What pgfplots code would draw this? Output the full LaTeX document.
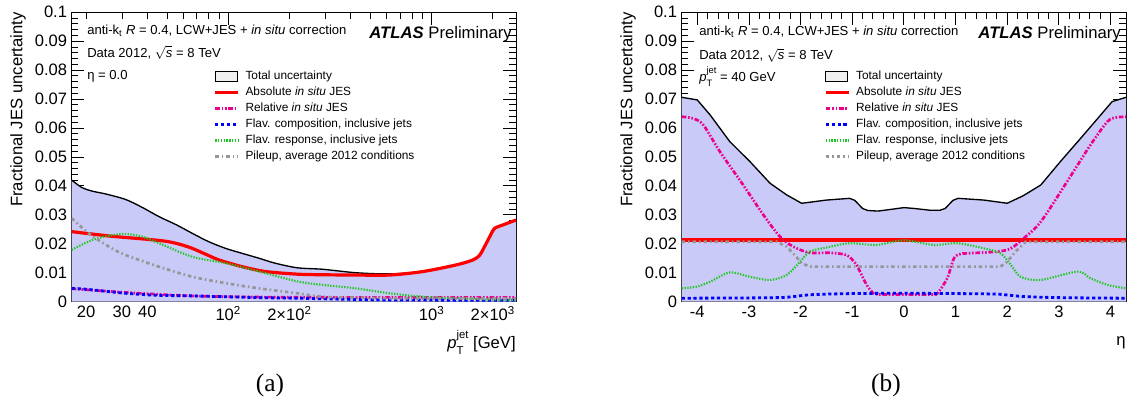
\documentclass[border=0pt]{standalone}
\usepackage{fontspec}
\setmainfont{Liberation Sans}
\newfontfamily\capfont{Liberation Serif}
\usepackage{pgfplots}
\pgfplotsset{compat=1.18}

\definecolor{totfill}{RGB}{202,202,248}
\definecolor{flavgreen}{RGB}{30,200,30}
\definecolor{pugray}{RGB}{150,150,150}

% p_T^jet with the ROOT-like stacked indices
\newcommand{\ptjet}[1]{\textit{p}\rlap{\raisebox{-0.4em}{\fontsize{#1}{#1}\selectfont T}}\raisebox{0.55em}{\fontsize{#1}{#1}\selectfont jet}}

\tikzset{
  totline/.style={black, line width=1pt},
  absstyle/.style={red, line width=2.4pt},
  relstyle/.style={magenta, line width=2pt, dash pattern=on 3.5pt off 1.3pt on 1.2pt off 1.3pt on 1.2pt off 1.3pt},
  compstyle/.style={blue, line width=2.1pt, dash pattern=on 2.4pt off 2pt},
  respstyle/.style={flavgreen, line width=1.6pt, dash pattern=on 1pt off 1.1pt},
  pustyle/.style={pugray, line width=2pt, dash pattern=on 2.6pt off 2.2pt on 1.2pt off 2.2pt},
}

\pgfplotsset{
  jesaxis/.style={
    scale only axis, width=333.2pt, height=217.1pt, anchor=north west,
    ymin=0, ymax=0.1,
    ytick={0,0.01,0.02,0.03,0.04,0.05,0.06,0.07,0.08,0.09,0.1},
    yticklabels={0,0.01,0.02,0.03,0.04,0.05,0.06,0.07,0.08,0.09,0.1},
    minor y tick num=4,
    scaled y ticks=false,
    tick label style={font=\fontsize{12.4}{14}\selectfont},
    major tick length=9.5pt, minor tick length=5pt,
    tick style={black, line width=0.6pt},
    axis line style={line width=0.6pt},
    legend cell align=left,
    legend style={draw=none, fill=none, inner sep=0pt, anchor=north west,
      font=\fontsize{8.9}{10}\selectfont, row sep=3.6pt, column sep=4.5pt,
      nodes={inner sep=0pt, text height=6.5pt, text depth=1.9pt}},
  },
  totbox/.style={legend image code/.code={\draw[black, line width=0.6pt, fill=gray!12] (0cm,-0.13cm) rectangle (0.58cm,0.13cm);}},
}

\begin{document}
\begin{tikzpicture}
\begin{scope}[x=0.75pt,y=-0.75pt]
\useasboundingbox (0,0) rectangle (1134,405);
\end{scope}

% ---------------- (a) versus pT ----------------
\begin{axis}[jesaxis, at={(53.8pt,-9.15pt)},
    xmode=log, xmin=17, xmax=2600,
    xtick={100,1000}, xticklabels={10\textsuperscript{2},10\textsuperscript{3}},
    extra x ticks={20,30,40,200,2000},
    extra x tick labels={20,30,40,2×10\textsuperscript{2},2×10\textsuperscript{3}},
    extra x tick style={major tick length=5pt},
    minor xtick={20,30,40,50,60,70,80,90,200,300,400,500,600,700,800,900,2000},
    legend style={at={(0.3187,0.798)}}]
\addplot[fill=totfill, draw=none, smooth, forget plot] coordinates {
 (17,0.0420) (19,0.0395) (21.4,0.0382) (25,0.0372) (31.3,0.0353) (37.7,0.0326)
 (45.6,0.0294) (55.8,0.0265) (66.6,0.0236) (80.3,0.0207) (97.2,0.0184) (117,0.0167)
 (141.8,0.0150) (170,0.0133) (219,0.0117) (291,0.0112) (425,0.0100) (620,0.0096)
 (904,0.0104) (1321,0.0127) (1594,0.0144) (1720,0.0160) (1820,0.0190) (1950,0.0230)
 (2038,0.0253) (2240,0.0265) (2600,0.0282)} \closedcycle;
\addplot[totline, smooth, forget plot] coordinates {
 (17,0.0420) (19,0.0395) (21.4,0.0382) (25,0.0372) (31.3,0.0353) (37.7,0.0326)
 (45.6,0.0294) (55.8,0.0265) (66.6,0.0236) (80.3,0.0207) (97.2,0.0184) (117,0.0167)
 (141.8,0.0150) (170,0.0133) (219,0.0117) (291,0.0112) (425,0.0100) (620,0.0096)
 (904,0.0104) (1321,0.0127) (1594,0.0144) (1720,0.0160) (1820,0.0190) (1950,0.0230)
 (2038,0.0253) (2240,0.0265) (2600,0.0282)};
% absolute in situ
\addplot[absstyle, smooth, forget plot] coordinates {
 (17,0.0242) (20,0.0236) (25.9,0.0227) (31,0.0222) (37.7,0.0217) (45,0.0212) (51,0.0207)
 (58,0.0198) (66.6,0.0184) (78,0.0163) (90.2,0.0144) (117,0.0121) (153,0.0104)
 (219,0.0095) (291,0.0093) (425,0.0092) (620,0.0092) (904,0.0104) (1321,0.0127)
 (1594,0.0144) (1720,0.0160) (1820,0.0190) (1950,0.0230) (2038,0.0253) (2240,0.0265) (2600,0.0282)};
% relative in situ
\addplot[relstyle, smooth, forget plot] coordinates {
 (17,0.0045) (31,0.0032) (66,0.0020) (141.8,0.0016) (300,0.0015) (1000,0.0015) (2600,0.0015)};
% flavour composition
\addplot[compstyle, smooth, forget plot] coordinates {
 (17,0.0046) (20,0.0043) (31.3,0.0029) (45,0.0022) (66.6,0.0020) (141.8,0.0014)
 (219,0.0012) (291,0.0010) (620,0.0006) (2600,0.0005)};
% flavour response
\addplot[respstyle, smooth, forget plot] coordinates {
 (17,0.0179) (21.4,0.0213) (26.9,0.0230) (31.3,0.0234) (37.7,0.0225) (45.6,0.0202)
 (66.6,0.0155) (97.2,0.0133) (141.8,0.0104) (219,0.0070) (291,0.0058) (425,0.0046)
 (620,0.0029) (904,0.0017) (1321,0.0012) (1900,0.0008) (2600,0.0006)};
% pileup
\addplot[pustyle, smooth, forget plot] coordinates {
 (17,0.0288) (20.6,0.0236) (25.9,0.0190) (31.3,0.0161) (45.6,0.0121) (66.6,0.0086)
 (97.2,0.0064) (141.8,0.0046) (219,0.0029) (291,0.0017) (425,0.0014) (620,0.0012)
 (1000,0.0011) (2600,0.0011)};
\addlegendimage{totbox}
\addlegendentry{Total uncertainty}
\addlegendimage{absstyle}
\addlegendentry{Absolute \textit{in situ} JES}
\addlegendimage{relstyle}
\addlegendentry{Relative \textit{in situ} JES}
\addlegendimage{compstyle}
\addlegendentry{Flav. composition, inclusive jets}
\addlegendimage{respstyle}
\addlegendentry{Flav. response, inclusive jets}
\addlegendimage{pustyle}
\addlegendentry{Pileup, average 2012 conditions}
\end{axis}

% ---------------- (b) versus eta ----------------
\begin{axis}[jesaxis, at={(511.3pt,-9.15pt)},
    xmin=-4.3, xmax=4.3,
    xtick={-4,-3,-2,-1,0,1,2,3,4}, xticklabels={-4,-3,-2,-1,0,1,2,3,4},
    minor x tick num=4,
    legend style={at={(0.320,0.798)}}]
\addplot[fill=totfill, draw=none, forget plot] coordinates {
 (-4.3,0.0706) (-4.0,0.0697) (-3.75,0.0645) (-3.37,0.0553) (-2.98,0.0484) (-2.59,0.0409)
 (-2.27,0.0369) (-1.98,0.0340) (-1.8,0.0344) (-1.5,0.0351) (-1.05,0.0357) (-0.95,0.0350)
 (-0.8,0.0322) (-0.7,0.0315) (-0.5,0.0313) (-0.2,0.0320) (0,0.0325) (0.2,0.0322)
 (0.5,0.0316) (0.7,0.0316) (0.8,0.0322) (0.95,0.0350) (1.05,0.0357) (1.55,0.0351)
 (2.0,0.0340) (2.3,0.0365) (2.65,0.0403) (3.03,0.0484) (3.42,0.0564) (3.81,0.0645)
 (4.03,0.0691) (4.3,0.0706)} \closedcycle;
\addplot[totline, forget plot] coordinates {
 (-4.3,0.0706) (-4.0,0.0697) (-3.75,0.0645) (-3.37,0.0553) (-2.98,0.0484) (-2.59,0.0409)
 (-2.27,0.0369) (-1.98,0.0340) (-1.8,0.0344) (-1.5,0.0351) (-1.05,0.0357) (-0.95,0.0350)
 (-0.8,0.0322) (-0.7,0.0315) (-0.5,0.0313) (-0.2,0.0320) (0,0.0325) (0.2,0.0322)
 (0.5,0.0316) (0.7,0.0316) (0.8,0.0322) (0.95,0.0350) (1.05,0.0357) (1.55,0.0351)
 (2.0,0.0340) (2.3,0.0365) (2.65,0.0403) (3.03,0.0484) (3.42,0.0564) (3.81,0.0645)
 (4.03,0.0691) (4.3,0.0706)};
\addplot[absstyle, forget plot] coordinates {(-4.3,0.0213) (4.3,0.0213)};
\addplot[relstyle, smooth, forget plot] coordinates {
 (-4.3,0.0639) (-4.08,0.0633) (-3.88,0.0610) (-3.56,0.0518) (-3.11,0.0403) (-2.72,0.0300)
 (-2.40,0.0225) (-2.14,0.0190) (-1.82,0.0169) (-1.43,0.0169) (-1.11,0.0161) (-0.95,0.0135)
 (-0.88,0.0115) (-0.72,0.0058) (-0.59,0.0029) (-0.5,0.0025) (0,0.0025) (0.55,0.0025)
 (0.65,0.0029) (0.84,0.0081) (0.97,0.0150) (1.1,0.0165) (1.23,0.0167) (1.81,0.0173)
 (2.07,0.0184) (2.32,0.0219) (2.65,0.0276) (3.16,0.0415) (3.61,0.0541) (3.94,0.0622)
 (4.1,0.0636) (4.3,0.0639)};
\addplot[compstyle, smooth, forget plot] coordinates {
 (-4.3,0.0012) (-3.0,0.0013) (-2.3,0.0015) (-1.8,0.0024) (-1.0,0.0028) (0,0.0029)
 (1.0,0.0028) (1.8,0.0026) (2.3,0.0018) (3.0,0.0014) (4.3,0.0012)};
\addplot[respstyle, smooth, forget plot] coordinates {
 (-4.3,0.0046) (-4.01,0.0052) (-3.75,0.0069) (-3.37,0.0101) (-2.98,0.0086) (-2.59,0.0075)
 (-2.27,0.0092) (-2.01,0.0138) (-1.82,0.0173) (-1.50,0.0187) (-1.05,0.0202) (-0.53,0.0196)
 (0,0.0212) (0.58,0.0196) (1.03,0.0202) (1.55,0.0184) (1.87,0.0167) (2.07,0.0127)
 (2.26,0.0086) (2.65,0.0075) (3.36,0.0104) (3.61,0.0081) (3.94,0.0058) (4.3,0.0046)};
\addplot[pustyle, forget plot] coordinates {
 (-4.3,0.0207) (-2.46,0.0207) (-2.27,0.0190) (-2.11,0.0161) (-1.98,0.0133) (-1.82,0.0121)
 (1.87,0.0121) (2.0,0.0138) (2.16,0.0173) (2.36,0.0207) (4.3,0.0207)};
\addlegendimage{totbox}
\addlegendentry{Total uncertainty}
\addlegendimage{absstyle}
\addlegendentry{Absolute \textit{in situ} JES}
\addlegendimage{relstyle}
\addlegendentry{Relative \textit{in situ} JES}
\addlegendimage{compstyle}
\addlegendentry{Flav. composition, inclusive jets}
\addlegendimage{respstyle}
\addlegendentry{Flav. response, inclusive jets}
\addlegendimage{pustyle}
\addlegendentry{Pileup, average 2012 conditions}
\end{axis}

% ---------------- labels and captions (pixel grid) ----------------
\begin{scope}[x=0.75pt,y=-0.75pt]
\tikzset{ann/.style={font=\fontsize{9.8}{11}\selectfont, inner sep=0pt},
         big/.style={font=\fontsize{12.5}{14}\selectfont, inner sep=0pt}}
\node[ann, anchor=base west] at (87,34.7) {anti-k\textsubscript{t} \textit{R} = 0.4, LCW+JES + \textit{in situ} correction};
\node[ann, anchor=base west] at (87,57) {Data 2012, $\smash{\sqrt{\mbox{\textit{s}}}}$ = 8 TeV};
\node[ann, anchor=base west] at (87,79.7) {η = 0.0};
\node[big, anchor=base east] at (512,38) {\textbf{\textit{ATLAS}} Preliminary};
\node[ann, anchor=base west] at (699,35.5) {anti-k\textsubscript{t} \textit{R} = 0.4, LCW+JES + \textit{in situ} correction};
\node[ann, anchor=base west] at (699,59.3) {Data 2012, $\smash{\sqrt{\mbox{\textit{s}}}}$ = 8 TeV};
\node[ann, anchor=base west] at (699,81) {\ptjet{7} = 40 GeV};
\node[big, anchor=base east] at (1121,38) {\textbf{\textit{ATLAS}} Preliminary};
\node[big, rotate=90, anchor=east] at (18,12) {Fractional JES uncertainty};
\node[big, rotate=90, anchor=east] at (628,12) {Fractional JES uncertainty};
\node[big, anchor=base east] at (516,348) {\ptjet{8.5} [GeV]};
\node[big, anchor=base east] at (1126,345) {η};
\node[anchor=base, font=\capfont\fontsize{19}{22}\selectfont] at (270,391) {(a)};
\node[anchor=base, font=\capfont\fontsize{19}{22}\selectfont] at (886,391) {(b)};
\end{scope}
\end{tikzpicture}
\end{document}
